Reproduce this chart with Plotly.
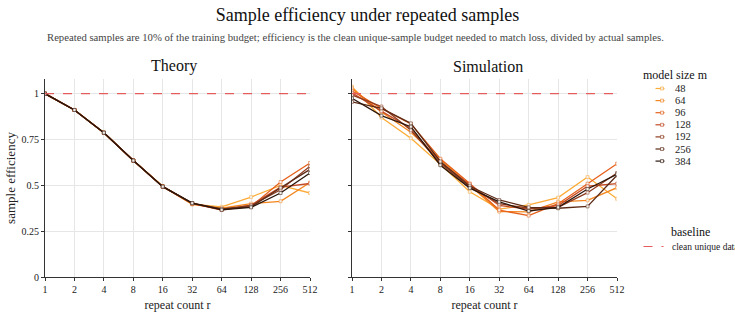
import math
import plotly.graph_objects as go
from plotly.subplots import make_subplots

repeat_counts = [1, 2, 4, 8, 16, 32, 64, 128, 256, 512]
tick_labels = ["1", "2", "4", "8", "16", "32", "64", "128", "256", "512"]
y_tick_vals = [0, 0.25, 0.5, 0.75, 1]
y_tick_labels = ["0", "0.25", "0.5", "0.75", "1"]
model_sizes = ["48", "64", "96", "128", "192", "256", "384"]
colors = ["#fdab36", "#f5861e", "#e6601a", "#c44a24", "#8e3c20", "#5c2b17", "#2b160c"]

theory = {
    "48":  [1.0, 0.911, 0.787, 0.635, 0.495, 0.398, 0.383, 0.436, 0.500, 0.458],
    "64":  [1.0, 0.911, 0.787, 0.635, 0.494, 0.396, 0.375, 0.400, 0.413, 0.515],
    "96":  [1.0, 0.911, 0.787, 0.635, 0.493, 0.400, 0.368, 0.385, 0.518, 0.622],
    "128": [1.0, 0.911, 0.787, 0.635, 0.493, 0.401, 0.365, 0.392, 0.490, 0.510],
    "192": [1.0, 0.911, 0.787, 0.635, 0.493, 0.402, 0.370, 0.390, 0.476, 0.604],
    "256": [1.0, 0.911, 0.787, 0.635, 0.493, 0.403, 0.372, 0.383, 0.487, 0.587],
    "384": [1.0, 0.911, 0.787, 0.635, 0.493, 0.403, 0.366, 0.380, 0.458, 0.567],
}
simulation = {
    "48":  [1.038, 0.870, 0.757, 0.615, 0.465, 0.370, 0.393, 0.433, 0.545, 0.427],
    "64":  [1.029, 0.900, 0.790, 0.640, 0.500, 0.357, 0.355, 0.410, 0.418, 0.487],
    "96":  [1.016, 0.920, 0.835, 0.645, 0.510, 0.365, 0.335, 0.400, 0.509, 0.618],
    "128": [1.005, 0.905, 0.810, 0.625, 0.505, 0.390, 0.370, 0.390, 0.495, 0.509],
    "192": [0.993, 0.930, 0.800, 0.620, 0.490, 0.400, 0.375, 0.380, 0.460, 0.567],
    "256": [0.955, 0.920, 0.838, 0.630, 0.495, 0.420, 0.380, 0.375, 0.385, 0.555],
    "384": [0.975, 0.880, 0.820, 0.610, 0.485, 0.410, 0.360, 0.380, 0.480, 0.560],
}
baseline_x = [1, 512]
baseline_value = [1.0, 1.0]
baseline_label = "clean unique data"
baseline_color = "#e35d5d"

FONT = "Liberation Serif, Times New Roman, serif"
W, H = 735, 314
ML, MR, MT, MB = 45, 118, 79, 37
PW, PH = W - ML - MR, H - MT - MB


def px_x(px):
    return (px - ML) / PW


def px_y(py):
    return (H - MB - py) / PH


fig = make_subplots(rows=1, cols=2, subplot_titles=("Theory", "Simulation"))

for col, data in ((1, theory), (2, simulation)):
    for m, c in zip(model_sizes, colors):
        fig.add_trace(go.Scatter(
            x=repeat_counts, y=data[m], mode="lines+markers", name=m,
            line=dict(color=c, width=1.3),
            marker=dict(symbol="square", size=3, color="#f4eeea", line=dict(color=c, width=0.5)),
            showlegend=False,
        ), row=1, col=col)
    fig.add_trace(go.Scatter(
        x=baseline_x, y=baseline_value, mode="lines", name=baseline_label,
        line=dict(color=baseline_color, width=1.3, dash="dash"), showlegend=False,
    ), row=1, col=col)

for col in (1, 2):
    fig.update_xaxes(type="log", range=[0, math.log10(512)], tickvals=repeat_counts,
                     ticktext=tick_labels, ticks="outside", ticklen=3, tickcolor="#333",
                     showline=True, linecolor="#333", linewidth=1.2,
                     showgrid=True, gridcolor="#e6e6e6", gridwidth=1, zeroline=False,
                     title=dict(text="repeat count r", font=dict(size=12, color="#222", family=FONT), standoff=6),
                     tickfont=dict(size=10, color="#222", family=FONT), row=1, col=col)
    fig.update_yaxes(range=[0, 1.08], tickvals=y_tick_vals,
                     ticktext=y_tick_labels if col == 1 else [""] * len(y_tick_vals),
                     ticks="outside", ticklen=3, tickcolor="#333",
                     showline=True, linecolor="#333", linewidth=1.2,
                     showgrid=True, gridcolor="#e6e6e6", gridwidth=1, zeroline=False,
                     tickfont=dict(size=10, color="#222", family=FONT), row=1, col=col)
fig.update_yaxes(title=dict(text="sample efficiency", font=dict(size=13, color="#222", family=FONT), standoff=2),
                 row=1, col=1)

fig.update_xaxes(domain=[0, px_x(310)], row=1, col=1)
fig.update_xaxes(domain=[px_x(352), 1], row=1, col=2)

annotations = []
for ann in fig.layout.annotations:
    ann.font = dict(family=FONT, size=16, color="#111")
    ann.yshift = 2
    annotations.append(ann)

annotations.append(dict(
    text="Repeated samples are 10% of the training budget; efficiency is the clean unique-sample budget needed to match loss, divided by actual samples.",
    xref="paper", yref="paper", x=px_x(355.5), xanchor="center", y=px_y(37), yanchor="middle",
    showarrow=False, font=dict(size=10.7, color="#444", family=FONT)))

# custom legend: model size
shapes = []
annotations.append(dict(text="model size m", xref="paper", yref="paper", x=px_x(641), xanchor="left",
                        y=px_y(75), yanchor="middle", showarrow=False,
                        font=dict(size=12, color="#111", family=FONT)))
for i, (m, c) in enumerate(zip(model_sizes, colors)):
    yy = 88.5 + 12.1 * i
    shapes.append(dict(type="line", xref="paper", yref="paper", x0=px_x(655.5), x1=px_x(668.5),
                       y0=px_y(yy), y1=px_y(yy), line=dict(color=c, width=1.2, dash="dash")))
    shapes.append(dict(type="rect", xref="paper", yref="paper", x0=px_x(660.5), x1=px_x(663.5),
                       y0=px_y(yy - 1.5), y1=px_y(yy + 1.5), fillcolor="#f4eeea",
                       line=dict(color=c, width=0.6)))
    annotations.append(dict(text=m, xref="paper", yref="paper", x=px_x(673), xanchor="left",
                            y=px_y(yy), yanchor="middle", showarrow=False,
                            font=dict(size=10.5, color="#222", family=FONT)))

# custom legend: baseline
annotations.append(dict(text="baseline", xref="paper", yref="paper", x=px_x(690.5), xanchor="center",
                        y=px_y(232), yanchor="middle", showarrow=False,
                        font=dict(size=12, color="#111", family=FONT)))
shapes.append(dict(type="line", xref="paper", yref="paper", x0=px_x(643.5), x1=px_x(663.5),
                   y0=px_y(246.5), y1=px_y(246.5), line=dict(color=baseline_color, width=1.2, dash="dash")))
annotations.append(dict(text=baseline_label, xref="paper", yref="paper", x=px_x(669.5), xanchor="left",
                        y=px_y(246.5), yanchor="middle", showarrow=False,
                        font=dict(size=9.5, color="#222", family=FONT)))

fig.update_layout(
    width=W, height=H,
    font=dict(family=FONT, color="#222"),
    plot_bgcolor="white", paper_bgcolor="white",
    margin=dict(l=ML, r=MR, t=MT, b=MB, autoexpand=False),
    showlegend=False,
    title=dict(text="Sample efficiency under repeated samples", x=0.5, xanchor="center",
               y=1 - 15 / H, yanchor="middle", font=dict(size=18, color="#111", family=FONT)),
    annotations=annotations,
    shapes=shapes,
)

fig.write_html("out.html", config={"displayModeBar": False},
               post_script="document.body.style.margin='0px';")
